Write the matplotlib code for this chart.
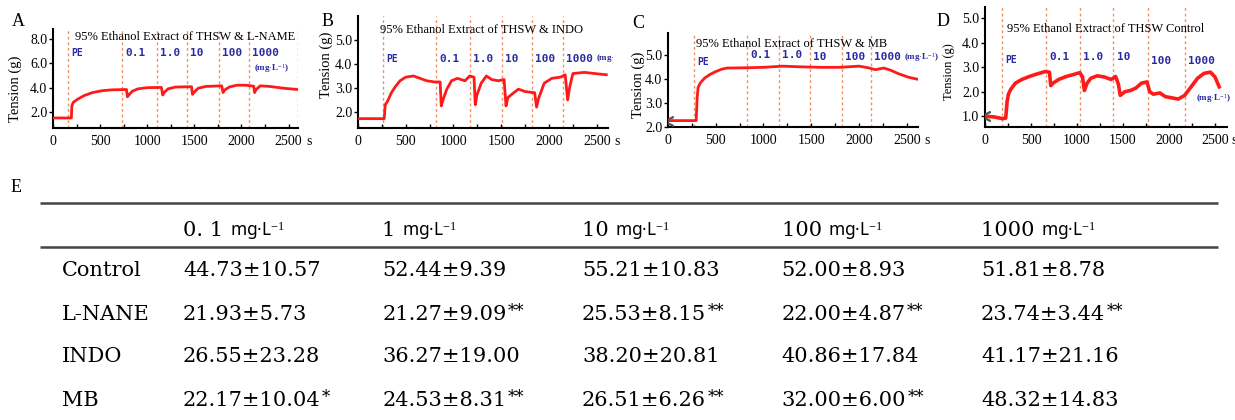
import numpy as np
import matplotlib.pyplot as plt
from matplotlib.transforms import Bbox, TransformedBbox

plt.rcParams['font.family'] = ['Liberation Serif', 'DejaVu Sans']
plt.rcParams['mathtext.fontset'] = 'custom'
plt.rcParams['mathtext.rm'] = 'Liberation Serif'
plt.rcParams['mathtext.it'] = 'Liberation Serif'

# ---- traces (time s, tension g) ----
a_t = [0, 195, 200, 215, 260, 330, 420, 520, 620, 780, 790, 805, 840, 900, 1000, 1150, 1165, 1180,
       1220, 1300, 1470, 1480, 1495, 1540, 1620, 1790, 1805, 1820, 1870, 1950, 2050, 2130, 2140,
       2155, 2200, 2300, 2450, 2595]
a_v = [1.52, 1.52, 2.5, 2.8, 3.05, 3.35, 3.6, 3.75, 3.82, 3.85, 3.25, 3.4, 3.7, 3.9, 4.0, 4.02, 3.4, 3.6,
       3.9, 4.05, 4.08, 3.45, 3.6, 3.95, 4.1, 4.15, 3.6, 3.8, 4.05, 4.2, 4.2, 4.12, 3.6,
       3.85, 4.15, 4.1, 3.95, 3.85]

b_t = [0, 275, 285, 310, 350, 390, 440, 500, 580, 650, 720, 800, 860, 872, 890, 930, 980, 1040, 1120,
       1170, 1215, 1228, 1245, 1290, 1345, 1400, 1470, 1530, 1550, 1570, 1615, 1680, 1750, 1850, 1870,
       1890, 1950, 2030, 2120, 2170, 2195, 2215, 2250, 2370, 2480, 2600]
b_v = [1.72, 1.72, 2.3, 2.45, 2.8, 3.05, 3.3, 3.45, 3.5, 3.4, 3.3, 3.25, 3.25, 2.25, 2.5, 2.95, 3.3, 3.4, 3.3,
       3.5, 3.45, 2.3, 2.7, 3.2, 3.5, 3.35, 3.3, 3.35, 2.25, 2.6, 2.75, 2.95, 2.85, 2.8, 2.2,
       2.55, 3.2, 3.4, 3.45, 3.55, 2.5, 3.0, 3.6, 3.65, 3.6, 3.55]

c_t = [0, 295, 305, 315, 340, 385, 440, 500, 560, 620, 800, 1000, 1200, 1400, 1600, 1800, 2000, 2100,
       2170, 2260, 2330, 2420, 2520, 2610]
c_v = [2.25, 2.25, 3.2, 3.65, 3.85, 4.05, 4.2, 4.32, 4.42, 4.47, 4.48, 4.5, 4.55, 4.52, 4.5, 4.5, 4.55, 4.48,
       4.4, 4.47, 4.38, 4.22, 4.08, 4.0]

d_t = [0, 100, 190, 225, 240, 255, 280, 330, 400, 480, 560, 650, 700, 715, 740, 800, 880, 960, 1030,
       1060, 1080, 1110, 1150, 1220, 1300, 1370, 1420, 1450, 1470, 1520, 1580, 1640, 1700, 1760, 1790,
       1830, 1900, 1960, 2030, 2100, 2170, 2240, 2310, 2380, 2450, 2500, 2545]
d_v = [1.0, 0.97, 0.9, 0.92, 1.6, 1.9, 2.1, 2.35, 2.5, 2.62, 2.72, 2.82, 2.8, 2.25, 2.35, 2.5, 2.62, 2.7, 2.78,
       2.6, 2.05, 2.35, 2.55, 2.65, 2.6, 2.5, 2.62, 2.3, 1.85, 2.0, 2.05, 2.15, 2.35, 2.4, 2.0,
       1.9, 1.95, 1.8, 1.75, 1.7, 1.85, 2.2, 2.55, 2.75, 2.8, 2.6, 2.2]

# times of drug additions (dotted lines)
a_add = [158, 729, 1099, 1423, 1757, 2077, 2595]
b_add = [258, 815, 1174, 1505, 1819, 2143]
c_add = [269, 832, 1164, 1486, 1818, 2122]
d_add = [182, 667, 1028, 1396, 1772, 2175]

dose_labels = ['PE', '0.1', '1.0', '10', '100', '1000']
unit = '(mg$\\cdot$L$^{-1}$)'

# ---- table E ----
rows = ['Control', 'L-NANE', 'INDO', 'MB']
concs = ['0. 1', '1', '10', '100', '1000']
means = [[44.73, 52.44, 55.21, 52.00, 51.81],
         [21.93, 21.27, 25.53, 22.00, 23.74],
         [26.55, 36.27, 38.20, 40.86, 41.17],
         [22.17, 24.53, 26.51, 32.00, 48.32]]
sds = [[10.57, 9.39, 10.83, 8.93, 8.78],
       [5.73, 9.09, 8.15, 4.87, 3.44],
       [23.28, 19.00, 20.81, 17.84, 21.16],
       [10.04, 8.31, 6.26, 6.00, 14.83]]
sig = [['', '', '', '', ''],
       ['', '**', '**', '**', '**'],
       ['', '', '', '', ''],
       ['*', '**', '**', '**', '']]

W, H = 1235, 420
fig = plt.figure(figsize=(W / 100, H / 100), dpi=100)

red = '#ff1a1a'
blue = '#2b2ba0'
dot = '#f09060'

panels = [
    # letter, title, t, v, adds, rect(px: left, bottom, width, height), ylim, yticks, xmax,
    # label y, title pos, ylabel pos, ylabel size
    ('A', '95% Ethanol Extract of THSW & L-NAME', a_t, a_v, a_add, (53, 128, 245, 99), (0.7, 8.8),
     [2, 4, 6, 8], 2600, [0.76] * 6, (0.09, 0.92), (-0.125, 0.40), 10.5),
    ('B', '95% Ethanol Extract of THSW & INDO', b_t, b_v, b_add, (358, 128, 250, 112), (1.33, 6.0),
     [2, 3, 4, 5], 2618, [0.62] * 6, (0.09, 0.875), (-0.10, 0.56), 10.5),
    ('C', '95% Ethanol Extract of THSW & MB', c_t, c_v, c_add, (668, 127, 250, 94), (1.98, 5.95),
     [2, 3, 4, 5], 2618, [0.69, 0.77, 0.77, 0.74, 0.75, 0.74], (0.11, 0.88), (-0.092, 0.45), 10.5),
    ('D', '95% Ethanol Extract of THSW Control', d_t, d_v, d_add, (985, 127, 242, 120), (0.56, 5.46),
     [1, 2, 3, 4, 5], 2630, [0.56, 0.58, 0.58, 0.58, 0.55, 0.55], (0.09, 0.82), (-0.124, 0.46), 9),
]

clipB = TransformedBbox(Bbox.from_extents(0, 0, 613 / W, 1), fig.transFigure)

for letter, title, t, v, adds, rect, ylim, yt, xmax, ly, tpos, lpos, lsize in panels:
    l, b, w, h = rect
    ax = fig.add_axes([l / W, (H - b) / H, w / W, h / H])
    for x in adds:
        ax.axvline(x, color=dot, lw=1, ls=(0, (2, 2)), zorder=1)
    ax.plot(t, v, color=red, lw=2.0 if letter != 'D' else 2.6, zorder=3)
    if letter in 'CD':
        ax.plot(t[0], v[0], marker='$<$', color='#555555', ms=7, zorder=4)
    ax.set_xlim(0, xmax)
    ax.set_ylim(*ylim)
    ax.set_xticks([0, 500, 1000, 1500, 2000, 2500])
    ax.set_xticks(np.arange(250, 2600, 500), minor=True)
    ax.set_yticks(yt)
    ax.set_yticklabels(['%.1f' % y for y in yt])
    ax.tick_params(axis='y', length=3, width=1, pad=1, labelsize=10)
    ax.tick_params(axis='x', which='both', direction='in', length=3, width=1, pad=5, labelsize=10)
    for s in ['top', 'right']:
        ax.spines[s].set_visible(False)
    for s in ['left', 'bottom']:
        ax.spines[s].set_linewidth(1.5)
    ax.set_ylabel('Tension (g)', fontsize=lsize)
    ax.yaxis.set_label_coords(*lpos)
    tr = ax.get_xaxis_transform()
    ax.annotate('s', xy=(2500, 0), xycoords=tr, xytext=(13 if letter != 'D' else 12, -5),
                textcoords='offset points', ha='left', va='top', fontsize=10)
    ax.text(tpos[0], tpos[1], title, transform=ax.transAxes, fontsize=9, ha='left', va='center')
    for i, lab in enumerate(dose_labels):
        tt = ax.text(adds[i] + 35, ly[i], lab, transform=tr, color=blue, fontsize=8 if i else 7,
                     family=['DejaVu Sans Mono'], fontweight='bold', ha='left', va='center')
        if letter in 'BC' and lab == '1000':
            tu = ax.annotate(unit, xy=(1, 0.5), xycoords=tt, xytext=(2, 0), textcoords='offset points',
                             color=blue, fontsize=6.5, fontweight='bold', ha='left', va='center')
            if letter == 'B':
                tu.set_clip_box(clipB)
                tu.set_clip_on(True)
    if letter == 'A':
        ax.text(adds[5] + 60, 0.6, unit, transform=tr, color=blue, fontsize=6.5,
                fontweight='bold', ha='left', va='center')
    if letter == 'D':
        ax.text(adds[5] + 120, 0.24, unit, transform=tr, color=blue, fontsize=6.5,
                fontweight='bold', ha='left', va='center')

# overlay in pixel coordinates for letters and the table
ov = fig.add_axes([0, 0, 1, 1], zorder=-1)
ov.set_xlim(0, W)
ov.set_ylim(H, 0)
ov.axis('off')

for letter, (x, y) in zip('ABCDE', [(18, 22), (328, 22), (638, 24), (943, 22), (16, 188)]):
    ov.text(x, y, letter, fontsize=13, ha='center', va='center')

ov.plot([40, 1218], [203, 203], color='#444444', lw=1.8, solid_capstyle='butt')
ov.plot([40, 1218], [247, 247], color='#444444', lw=1.8, solid_capstyle='butt')

tab_font = ['DejaVu Serif']
col_x = [183 + j * 199.5 for j in range(len(concs))]
for j, c in enumerate(concs):
    tnum = ov.text(col_x[j], 236, c + ' ', fontsize=15, family=tab_font, ha='left', va='baseline')
    ov.annotate('mg\u00b7L$^{-1}$', xy=(1, 236), xycoords=(tnum, 'data'), xytext=(0, 0),
                textcoords='offset points', fontsize=12.5, family=['Noto Sans'], ha='left', va='baseline')

for i, r in enumerate(rows):
    y = 271 + i * 43
    ov.text(62, y, r, fontsize=15, family=tab_font, ha='left', va='center')
    for j in range(len(concs)):
        s = '%.2f\u00b1%.2f' % (means[i][j], sds[i][j])
        tv = ov.text(col_x[j], y, s, fontsize=15, family=tab_font, ha='left', va='center')
        if sig[i][j]:
            ov.annotate(sig[i][j], xy=(1, 1), xycoords=tv, xytext=(1, 1), textcoords='offset points',
                        fontsize=12, family=tab_font, ha='left', va='top')

fig.savefig('out.png', dpi=100)
